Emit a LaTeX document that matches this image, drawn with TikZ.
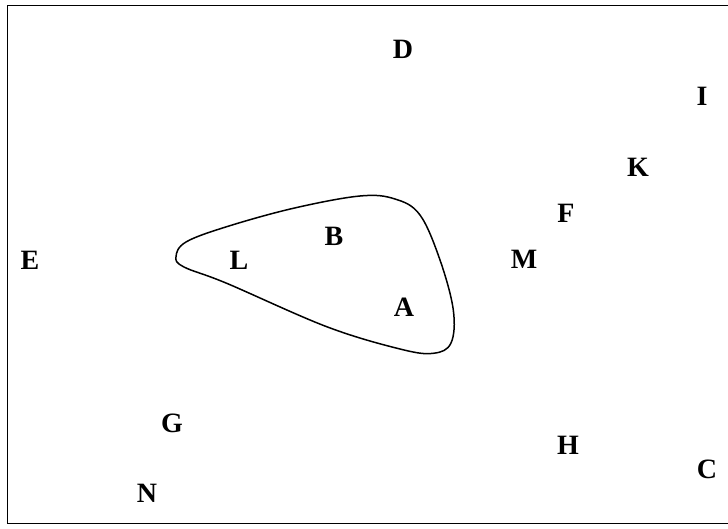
\documentclass[tikz,border=0pt]{standalone}
\usepackage{fontspec}
\setmainfont{Liberation Serif}
\begin{document}
\begin{tikzpicture}[x=1pt,y=-1pt,
  lbl/.style={font=\fontsize{28}{28}\selectfont\bfseries, inner sep=0pt, anchor=center},
  frame/.style={line width=1.4pt},
  blob/.style={line width=1.5pt}]
\useasboundingbox (0,0) rectangle (728,529);
\draw[frame] (728,5.5) coordinate (tr) -- (7.5,5.5) -- (7.5,523.5) -- (728,523.5) coordinate (br);
\draw[blob] plot[smooth cycle, tension=0.6] coordinates {
  (176,256.7) (186,242) (226.7,226.7) (293.3,208.3)
  (360,196) (395,199) (420,215)
  (440,260) (453.3,310) (451,343) (433.3,353.3)
  (400,349) (326.7,326.7) (226.7,283.3)
  (184,267)};
\node[lbl] (D) at (403,49) {D};
\node[lbl] (I) at (702,96) {I};
\node[lbl] (K) at (638,167) {K};
\node[lbl] (F) at (566,213) {F};
\node[lbl] (E) at (30,260) {E};
\node[lbl] (L) at (239,260) {L};
\node[lbl] (B) at (334,236) {B};
\node[lbl] (M) at (524,259) {M};
\node[lbl] (A) at (404,307) {A};
\node[lbl] (G) at (172,423) {G};
\node[lbl] (H) at (568,445) {H};
\node[lbl] (C) at (707,469) {C};
\node[lbl] (N) at (147,493) {N};
\end{tikzpicture}
\end{document}
